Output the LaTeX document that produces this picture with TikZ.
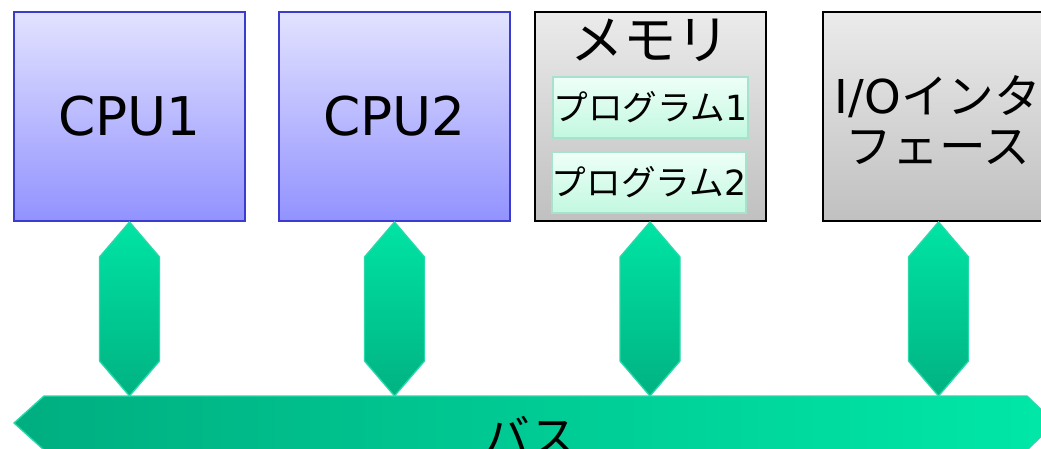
\documentclass[tikz,border=0pt]{standalone}
\usepackage{fontspec}
\setmainfont{DejaVu Sans}
\newfontfamily\jp{Noto Sans CJK JP}
\usetikzlibrary{calc}

\definecolor{cpuline}{HTML}{3C3CCC}
\definecolor{cputop}{HTML}{E2E2FF}
\definecolor{cpubot}{HTML}{9292FF}
\definecolor{graytop}{HTML}{EBEBEB}
\definecolor{graybot}{HTML}{C0C0C0}
\definecolor{progline}{HTML}{A8E2CC}
\definecolor{progtop}{HTML}{EEFFF8}
\definecolor{progbot}{HTML}{C2F8E0}
\definecolor{linkline}{HTML}{28D8A8}
\definecolor{linktop}{HTML}{00E4A4}
\definecolor{linkbot}{HTML}{00B282}
\definecolor{busleft}{HTML}{00AE80}
\definecolor{busright}{HTML}{00E8A8}

\tikzset{
  unitbox/.style={line width=1.5pt, minimum width=173.25pt, minimum height=156.75pt, inner sep=0pt},
  cpubox/.style={unitbox, draw=cpuline, top color=cputop, bottom color=cpubot,
    font=\fontsize{40}{48}\selectfont},
  graybox/.style={unitbox, draw=black, top color=graytop, bottom color=graybot},
  progbox/.style={draw=progline, line width=1.5pt, top color=progtop, bottom color=progbot,
    minimum width=145pt, minimum height=45.75pt, inner sep=0pt, font=\fontsize{26}{30}\selectfont},
  link/.style={draw=linkline, line width=1pt, top color=linktop, bottom color=linkbot},
}

% double arrow from a unit down to the bus
\newcommand{\buslink}[1]{%
  \path[link] (#1.south) -- ($(#1.south)+(30,35)$) -- ($(#1.south |- bustop)+(30,-35)$)
    -- (#1.south |- bustop) -- ($(#1.south |- bustop)+(-30,-35)$) -- ($(#1.south)+(-30,35)$) -- cycle;}

\begin{document}
\begin{tikzpicture}[x=0.75pt, y=-0.75pt]
  \useasboundingbox (0,0) rectangle (1041,449);
  \clip (0,0) rectangle (1041,449);

  % units
  \node[cpubox] (cpu1) at (129.5,116.5) {CPU1};
  \node[cpubox] (cpu2) at (394.5,116.5) {CPU2};
  \node[graybox] (mem) at (650,116.5) {};
  \node[graybox] (io) at (938.5,116.5) {};

  \node[font=\fontsize{40}{48}\selectfont\jp] (memlabel) at (650,40) {メモリ};
  \node[progbox] (prog1) at (650.5,107.5) {{\jp プログラム}1};
  \node[progbox] (prog2) at (649,182.5) {{\jp プログラム}2};
  \node[font=\fontsize{35}{38}\selectfont, align=center] (iolabel) at (938,120)
    {I/O{\jp インタ}\\{\jp フェース}};

  % bus
  \coordinate (bustop) at (530,396);
  \path[draw=linkline, line width=1pt, left color=busleft, right color=busright]
    (14,423) -- (44,396) -- (1027,396) -- (1055,423) -- (1027,450) -- (44,450) -- cycle;
  \node[font=\fontsize{35}{38}\selectfont\jp] (bus) at (530,436) {バス};

  \foreach \u in {cpu1,cpu2,mem,io} {\buslink{\u}}
\end{tikzpicture}
\end{document}
